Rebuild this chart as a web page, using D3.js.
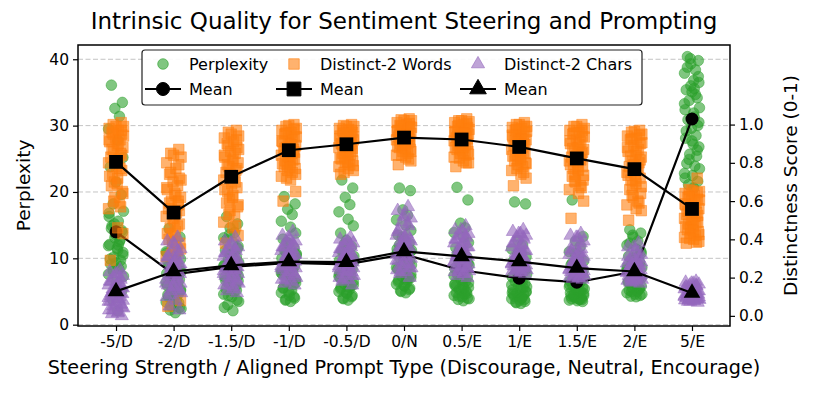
<!DOCTYPE html>
<html>
<head>
<meta charset="utf-8">
<script src="https://cdn.jsdelivr.net/npm/d3@7"></script>
<style>
  body { margin: 0; background: #fff; }
  text { font-family: "DejaVu Sans", sans-serif; fill: #000; }
</style>
</head>
<body>
<script>
// categories on the x axis
const categories = ["-5/D", "-2/D", "-1.5/D", "-1/D", "-0.5/D", "0/N", "0.5/E", "1/E", "1.5/E", "2/E", "5/E"];

// perplexity samples per category (left axis)
const perplexity = [
  [36.1, 33.5, 32.6, 31.4, 29.5, 27.8, 25.2, 23.8, 21.5, 19.6, 18.2, 17.1, 16.3, 15.6, 14.9, 14.2, 13.6, 12.8, 12.1, 11.5, 10.9, 10.2, 9.7, 9.1, 8.4, 7.6, 6.5, 5.1, 3.8, 2.1,
   15.2, 14.5, 13.9, 13.1, 12.5, 11.9, 11.2, 10.5, 9.9, 9.3, 8.8, 8.1, 7.3, 16.8, 12.0],
  [14.5, 13.2, 12.4, 11.6, 11.0, 10.4, 9.9, 9.5, 9.1, 8.7, 8.3, 8.0, 7.7, 7.4, 7.1, 6.8, 6.5, 6.2, 5.9, 5.6, 5.3, 5.0, 4.6, 4.2, 3.8, 3.4, 3.0, 2.6, 2.2, 1.8,
   9.6, 8.9, 8.1, 7.5, 6.9, 6.3, 5.7, 5.1, 4.5, 3.9, 3.3, 2.8, 2.4, 10.8, 7.9],
  [16.3, 15.2, 14.6, 13.9, 13.1, 12.4, 11.8, 11.2, 10.7, 10.2, 9.8, 9.4, 9.0, 8.7, 8.4, 8.1, 7.8, 7.5, 7.2, 6.9, 6.6, 6.2, 5.8, 5.4, 5.0, 4.6, 4.2, 3.7, 3.0, 2.1,
   13.6, 12.8, 11.5, 10.5, 9.6, 8.8, 8.2, 7.4, 6.7, 6.0, 5.2, 4.4, 3.5, 2.6, 9.9],
  [19.3, 18.2, 17.4, 16.6, 15.6, 14.7, 13.8, 12.9, 12.2, 11.6, 11.0, 10.5, 10.0, 9.6, 9.2, 8.8, 8.4, 8.0, 7.6, 7.2, 6.8, 6.4, 6.0, 5.6, 5.2, 4.8, 4.4, 4.0, 3.7, 3.5,
   12.4, 11.3, 10.2, 9.4, 8.6, 7.8, 7.0, 6.3, 5.5, 4.9, 4.2, 3.8, 10.7, 8.2, 6.6],
  [21.8, 20.6, 19.2, 18.1, 17.0, 15.9, 14.9, 13.8, 12.7, 11.8, 11.0, 10.3, 9.7, 9.2, 8.7, 8.3, 7.9, 7.5, 7.1, 6.8, 6.5, 6.2, 5.9, 5.6, 5.3, 5.0, 4.7, 4.4, 4.0, 3.7,
   12.2, 11.1, 10.0, 9.0, 8.1, 7.3, 6.6, 6.0, 5.4, 4.8, 4.2, 3.9, 9.5, 7.7, 5.7],
  [20.6, 20.2, 17.3, 16.5, 15.8, 15.0, 14.2, 13.5, 12.9, 12.3, 11.7, 11.2, 10.8, 10.4, 10.0, 9.6, 9.2, 8.8, 8.4, 8.0, 7.6, 7.3, 7.0, 6.7, 6.4, 6.1, 5.8, 5.5, 5.1, 4.8,
   13.2, 12.0, 11.0, 10.2, 9.4, 8.6, 7.8, 7.1, 6.5, 5.9, 5.3, 5.0, 9.0, 11.4, 6.8],
  [20.7, 18.8, 15.3, 14.6, 13.9, 13.2, 12.4, 11.6, 10.9, 10.2, 9.6, 9.0, 8.5, 8.0, 7.6, 7.2, 6.8, 6.5, 6.2, 5.9, 5.6, 5.3, 5.0, 4.8, 4.6, 4.4, 4.2, 4.0, 3.8, 3.6,
   11.3, 10.5, 9.3, 8.7, 7.9, 7.4, 6.9, 6.3, 5.8, 5.2, 4.7, 4.3, 3.9, 6.0, 5.5],
  [18.5, 18.2, 12.7, 12.0, 11.4, 10.8, 10.2, 9.6, 9.0, 8.5, 8.0, 7.6, 7.2, 6.8, 6.5, 6.2, 5.9, 5.6, 5.3, 5.1, 4.9, 4.7, 4.5, 4.3, 4.1, 3.9, 3.7, 3.5, 3.4, 3.2,
   10.5, 9.3, 8.3, 7.4, 6.6, 6.0, 5.5, 5.0, 4.6, 4.2, 3.8, 3.3, 5.7, 4.8, 4.0],
  [18.8, 13.3, 12.6, 11.8, 11.0, 10.3, 9.6, 9.0, 8.4, 7.9, 7.4, 7.0, 6.6, 6.2, 5.9, 5.6, 5.3, 5.0, 4.8, 4.6, 4.4, 4.2, 4.0, 3.9, 3.8, 3.7, 3.6, 3.5, 4.3, 5.1,
   10.8, 9.3, 8.1, 7.2, 6.4, 5.7, 5.1, 4.7, 4.3, 4.0, 3.8, 4.5, 5.4, 6.0, 3.9],
  [14.3, 13.8, 13.2, 12.6, 12.0, 11.4, 10.8, 10.3, 9.8, 9.4, 9.0, 8.6, 8.2, 7.9, 7.6, 7.3, 7.0, 6.7, 6.4, 6.1, 5.8, 5.6, 5.4, 5.2, 5.0, 4.8, 4.6, 4.4, 4.3, 4.2,
   13.5, 12.3, 11.1, 10.0, 9.1, 8.4, 7.7, 7.1, 6.5, 5.9, 5.4, 5.0, 4.6, 8.8, 6.2],
  [40.4, 39.8, 39.3, 38.4, 37.9, 36.8, 36.5, 35.4, 35.1, 34.2, 33.8, 32.7, 32.4, 31.3, 30.9, 30.0, 29.6, 28.5, 28.1, 27.2, 26.8, 25.7, 25.4, 24.3, 23.9, 22.8, 22.5, 21.6, 21.1, 20.6,
   40.1, 38.8, 37.4, 36.0, 34.7, 33.3, 31.9, 30.5, 29.2, 27.7, 26.3, 24.9, 23.5, 22.1, 35.6]
];

// distinct-2 words samples (right axis)
const distinctWords = [
  [1.01, 1.0, 0.99, 0.98, 0.97, 0.96, 0.95, 0.93, 0.92, 0.91, 0.89, 0.88, 0.86, 0.85, 0.83, 0.82, 0.8, 0.78, 0.76, 0.74, 0.72, 0.7, 0.68, 0.65, 0.62, 0.59, 0.56, 0.46, 0.43, 0.29,
   0.99, 0.97, 0.95, 0.94, 0.92, 0.9, 0.87, 0.84, 0.81, 0.77, 0.73, 0.69, 0.64, 0.6, 0.57],
  [0.87, 0.85, 0.83, 0.8, 0.77, 0.74, 0.72, 0.7, 0.68, 0.66, 0.64, 0.62, 0.6, 0.58, 0.56, 0.54, 0.52, 0.5, 0.48, 0.46, 0.44, 0.42, 0.4, 0.38, 0.36, 0.34, 0.31, 0.28, 0.08, 0.05,
   0.84, 0.79, 0.75, 0.71, 0.67, 0.63, 0.59, 0.55, 0.51, 0.47, 0.43, 0.39, 0.35, 0.32, 0.6],
  [0.97, 0.96, 0.94, 0.93, 0.91, 0.9, 0.88, 0.86, 0.85, 0.83, 0.81, 0.8, 0.78, 0.76, 0.75, 0.73, 0.71, 0.69, 0.67, 0.65, 0.63, 0.61, 0.59, 0.57, 0.55, 0.52, 0.49, 0.46, 0.42, 0.38,
   0.95, 0.92, 0.89, 0.87, 0.84, 0.82, 0.79, 0.77, 0.74, 0.7, 0.66, 0.62, 0.58, 0.53, 0.47],
  [1.0, 0.99, 0.98, 0.97, 0.96, 0.95, 0.94, 0.93, 0.92, 0.91, 0.9, 0.89, 0.88, 0.87, 0.86, 0.85, 0.84, 0.83, 0.82, 0.81, 0.8, 0.79, 0.78, 0.77, 0.76, 0.75, 0.73, 0.71, 0.65, 0.6,
   0.995, 0.975, 0.955, 0.935, 0.915, 0.895, 0.875, 0.855, 0.835, 0.815, 0.795, 0.775, 0.74, 0.72, 0.86],
  [1.0, 0.995, 0.99, 0.98, 0.975, 0.97, 0.96, 0.95, 0.945, 0.94, 0.93, 0.92, 0.915, 0.91, 0.9, 0.89, 0.88, 0.87, 0.86, 0.85, 0.84, 0.83, 0.82, 0.81, 0.8, 0.79, 0.78, 0.77, 0.76, 0.74,
   0.99, 0.97, 0.955, 0.935, 0.925, 0.905, 0.895, 0.875, 0.865, 0.845, 0.825, 0.805, 0.785, 0.75, 0.9],
  [1.03, 1.025, 1.02, 1.01, 1.0, 0.995, 0.99, 0.98, 0.975, 0.97, 0.96, 0.955, 0.95, 0.94, 0.935, 0.93, 0.92, 0.915, 0.91, 0.9, 0.895, 0.89, 0.88, 0.87, 0.86, 0.85, 0.84, 0.83, 0.81, 0.79,
   1.02, 1.005, 0.99, 0.985, 0.965, 0.95, 0.945, 0.925, 0.91, 0.905, 0.885, 0.875, 0.86, 0.84, 0.82],
  [1.03, 1.02, 1.015, 1.01, 1.0, 0.99, 0.985, 0.98, 0.97, 0.965, 0.96, 0.95, 0.945, 0.94, 0.93, 0.92, 0.915, 0.91, 0.9, 0.89, 0.88, 0.875, 0.87, 0.86, 0.85, 0.84, 0.83, 0.81, 0.8, 0.78,
   1.02, 1.005, 0.995, 0.975, 0.96, 0.955, 0.935, 0.925, 0.905, 0.895, 0.88, 0.865, 0.845, 0.825, 0.8],
  [1.01, 1.0, 0.99, 0.985, 0.98, 0.97, 0.96, 0.95, 0.94, 0.935, 0.93, 0.92, 0.91, 0.9, 0.89, 0.88, 0.87, 0.86, 0.85, 0.84, 0.83, 0.82, 0.81, 0.8, 0.79, 0.78, 0.76, 0.74, 0.72, 0.68,
   1.0, 0.99, 0.975, 0.965, 0.945, 0.925, 0.915, 0.895, 0.875, 0.855, 0.835, 0.815, 0.795, 0.77, 0.75],
  [1.0, 0.99, 0.98, 0.97, 0.96, 0.95, 0.94, 0.92, 0.91, 0.9, 0.88, 0.87, 0.86, 0.85, 0.83, 0.82, 0.81, 0.8, 0.78, 0.77, 0.76, 0.74, 0.73, 0.71, 0.7, 0.68, 0.66, 0.64, 0.6, 0.51,
   0.99, 0.97, 0.955, 0.935, 0.915, 0.895, 0.875, 0.855, 0.835, 0.815, 0.79, 0.765, 0.735, 0.705, 0.67],
  [0.97, 0.96, 0.95, 0.94, 0.93, 0.92, 0.9, 0.89, 0.87, 0.86, 0.84, 0.83, 0.81, 0.8, 0.78, 0.77, 0.75, 0.74, 0.72, 0.71, 0.69, 0.68, 0.66, 0.64, 0.62, 0.6, 0.58, 0.56, 0.55, 0.5,
   0.965, 0.945, 0.925, 0.905, 0.88, 0.86, 0.835, 0.815, 0.79, 0.765, 0.735, 0.705, 0.675, 0.63, 0.59],
  [0.72, 0.66, 0.65, 0.64, 0.63, 0.62, 0.61, 0.6, 0.59, 0.58, 0.57, 0.56, 0.55, 0.54, 0.53, 0.52, 0.51, 0.5, 0.49, 0.48, 0.47, 0.46, 0.45, 0.44, 0.43, 0.42, 0.41, 0.4, 0.39, 0.38,
   0.655, 0.645, 0.625, 0.605, 0.585, 0.565, 0.545, 0.525, 0.505, 0.485, 0.465, 0.445, 0.425, 0.405, 0.385]
];

// distinct-2 chars samples (right axis)
const distinctChars = [
  [0.24, 0.23, 0.22, 0.21, 0.2, 0.19, 0.18, 0.17, 0.16, 0.155, 0.15, 0.14, 0.135, 0.13, 0.12, 0.115, 0.11, 0.1, 0.095, 0.09, 0.08, 0.075, 0.07, 0.06, 0.05, 0.04, 0.03, 0.02, 0.01, 0.0,
   0.22, 0.2, 0.18, 0.16, 0.145, 0.13, 0.12, 0.105, 0.09, 0.075, 0.06, 0.045, 0.03, 0.015, 0.14],
  [0.41, 0.39, 0.37, 0.35, 0.33, 0.32, 0.31, 0.3, 0.29, 0.28, 0.27, 0.26, 0.25, 0.24, 0.23, 0.22, 0.21, 0.2, 0.19, 0.18, 0.17, 0.16, 0.15, 0.14, 0.13, 0.12, 0.1, 0.08, 0.05, 0.03,
   0.38, 0.34, 0.31, 0.29, 0.27, 0.25, 0.23, 0.21, 0.19, 0.17, 0.15, 0.13, 0.11, 0.22, 0.26],
  [0.41, 0.39, 0.37, 0.36, 0.35, 0.34, 0.33, 0.32, 0.31, 0.3, 0.29, 0.28, 0.275, 0.27, 0.26, 0.255, 0.25, 0.24, 0.235, 0.23, 0.22, 0.21, 0.2, 0.19, 0.18, 0.17, 0.16, 0.15, 0.13, 0.12,
   0.38, 0.35, 0.33, 0.31, 0.29, 0.27, 0.26, 0.25, 0.24, 0.22, 0.2, 0.18, 0.16, 0.14, 0.28],
  [0.44, 0.42, 0.4, 0.39, 0.38, 0.37, 0.36, 0.35, 0.34, 0.33, 0.32, 0.31, 0.3, 0.295, 0.29, 0.285, 0.28, 0.27, 0.26, 0.255, 0.25, 0.24, 0.23, 0.22, 0.21, 0.2, 0.19, 0.18, 0.17, 0.16,
   0.41, 0.38, 0.36, 0.34, 0.32, 0.3, 0.29, 0.28, 0.27, 0.25, 0.23, 0.21, 0.19, 0.31, 0.26],
  [0.41, 0.4, 0.39, 0.38, 0.37, 0.36, 0.35, 0.34, 0.33, 0.32, 0.31, 0.305, 0.3, 0.295, 0.29, 0.28, 0.275, 0.27, 0.26, 0.255, 0.25, 0.24, 0.235, 0.23, 0.22, 0.21, 0.2, 0.19, 0.18, 0.16,
   0.39, 0.37, 0.35, 0.33, 0.31, 0.3, 0.29, 0.28, 0.27, 0.25, 0.23, 0.21, 0.19, 0.26, 0.32],
  [0.57, 0.55, 0.53, 0.51, 0.49, 0.47, 0.45, 0.43, 0.42, 0.41, 0.4, 0.39, 0.38, 0.37, 0.36, 0.35, 0.34, 0.33, 0.32, 0.31, 0.3, 0.29, 0.28, 0.27, 0.26, 0.25, 0.24, 0.23, 0.22, 0.2,
   0.52, 0.48, 0.44, 0.41, 0.39, 0.37, 0.35, 0.33, 0.31, 0.29, 0.27, 0.25, 0.23, 0.34, 0.36],
  [0.47, 0.45, 0.44, 0.43, 0.42, 0.41, 0.4, 0.39, 0.38, 0.37, 0.36, 0.35, 0.34, 0.33, 0.32, 0.31, 0.3, 0.29, 0.285, 0.28, 0.27, 0.26, 0.255, 0.25, 0.24, 0.235, 0.23, 0.22, 0.21, 0.2,
   0.45, 0.42, 0.4, 0.38, 0.36, 0.34, 0.32, 0.31, 0.3, 0.28, 0.26, 0.25, 0.23, 0.22, 0.33],
  [0.45, 0.44, 0.43, 0.42, 0.41, 0.4, 0.38, 0.37, 0.36, 0.35, 0.34, 0.33, 0.32, 0.31, 0.3, 0.29, 0.285, 0.28, 0.275, 0.27, 0.265, 0.26, 0.255, 0.25, 0.245, 0.24, 0.235, 0.23, 0.225, 0.22,
   0.43, 0.41, 0.38, 0.36, 0.34, 0.32, 0.3, 0.29, 0.28, 0.27, 0.26, 0.25, 0.24, 0.23, 0.31],
  [0.43, 0.42, 0.41, 0.39, 0.37, 0.35, 0.34, 0.33, 0.32, 0.31, 0.3, 0.29, 0.28, 0.27, 0.265, 0.26, 0.255, 0.25, 0.245, 0.24, 0.235, 0.23, 0.225, 0.22, 0.215, 0.21, 0.205, 0.2, 0.195, 0.19,
   0.41, 0.38, 0.35, 0.33, 0.31, 0.29, 0.27, 0.26, 0.25, 0.24, 0.23, 0.22, 0.21, 0.2, 0.28],
  [0.38, 0.36, 0.34, 0.32, 0.31, 0.3, 0.29, 0.28, 0.275, 0.27, 0.265, 0.26, 0.255, 0.25, 0.245, 0.24, 0.235, 0.23, 0.225, 0.22, 0.215, 0.21, 0.205, 0.2, 0.195, 0.19, 0.185, 0.18, 0.175, 0.17,
   0.36, 0.33, 0.31, 0.29, 0.28, 0.27, 0.26, 0.25, 0.24, 0.23, 0.22, 0.21, 0.2, 0.19, 0.18],
  [0.18, 0.175, 0.17, 0.165, 0.16, 0.155, 0.15, 0.145, 0.14, 0.135, 0.13, 0.125, 0.12, 0.118, 0.115, 0.112, 0.11, 0.108, 0.105, 0.1, 0.098, 0.095, 0.092, 0.09, 0.088, 0.085, 0.082, 0.08, 0.075, 0.07,
   0.17, 0.16, 0.15, 0.14, 0.13, 0.125, 0.12, 0.115, 0.11, 0.1, 0.095, 0.09, 0.085, 0.08, 0.075]
];

// means per category
const perplexityMean = [14.0, 7.6, 8.7, 9.3, 9.1, 10.6, 8.2, 7.0, 6.4, 8.0, 31.0];
const wordsMean = [0.805, 0.54, 0.727, 0.866, 0.897, 0.932, 0.922, 0.883, 0.823, 0.767, 0.559];
const charsMean = [0.128, 0.232, 0.264, 0.284, 0.281, 0.337, 0.311, 0.284, 0.25, 0.232, 0.12];

// horizontal jitter offsets (in category units)
const jitter = [-0.08, 0.11, -0.02, 0.06, -0.13, 0.03, 0.12, -0.1, 0.0, 0.09, -0.05, 0.13, -0.12, 0.04, -0.07, 0.1, -0.01, 0.07, -0.11, 0.02, 0.12, -0.04, 0.08, -0.09, 0.05, -0.13, 0.01, 0.1, -0.06, 0.03, -0.03];

const leftTicks = [0, 10, 20, 30, 40];
const rightTicks = [0.0, 0.2, 0.4, 0.6, 0.8, 1.0];

const width = 814, height = 397;
const plot = { left: 78, right: 730, top: 45, bottom: 326 };

const svg = d3.select("body").append("svg")
    .attr("width", width)
    .attr("height", height);

let x = d3.scaleLinear().domain([-0.66, 10.66]).range([plot.left, plot.right]);
let yL = d3.scaleLinear().domain([-0.2, 42.15]).range([plot.bottom, plot.top]);
let yR = d3.scaleLinear().domain([-0.053, 1.416]).range([plot.bottom, plot.top]);

const green = "#2ca02c", orange = "#ff7f0e", purple = "#9467bd";

// grid (left axis ticks)
svg.append("g").selectAll("line").data(leftTicks).enter().append("line")
    .attr("x1", plot.left).attr("x2", plot.right)
    .attr("y1", d => yL(d)).attr("y2", d => yL(d))
    .attr("stroke", "#c4c4c4").attr("stroke-width", 1)
    .attr("stroke-dasharray", "5,2.5");

svg.append("clipPath").attr("id", "clip").append("rect")
    .attr("x", plot.left).attr("y", plot.top)
    .attr("width", plot.right - plot.left).attr("height", plot.bottom - plot.top);

const layer = svg.append("g").attr("clip-path", "url(#clip)");

function flatten(series, shift) {
    let pts = [];
    series.forEach((vals, ci) => vals.forEach((v, i) => {
        pts.push({ c: ci + jitter[(i + shift) % jitter.length], v: v });
    }));
    return pts;
}

const sqSym = d3.symbol().type(d3.symbolSquare);
const triSym = d3.symbol().type(d3.symbolTriangle);
const alpha = 0.6;

// perplexity points
layer.append("g").selectAll("circle").data(flatten(perplexity, 0)).enter().append("circle")
    .attr("cx", d => x(d.c)).attr("cy", d => yL(d.v)).attr("r", 5.3)
    .attr("fill", green).attr("fill-opacity", alpha)
    .attr("stroke", green).attr("stroke-opacity", alpha).attr("stroke-width", 0.8);

const meanLine = (scale) => d3.line().x((d, i) => x(i)).y(d => scale(d));

layer.append("path").datum(perplexityMean)
    .attr("d", meanLine(yL)).attr("fill", "none").attr("stroke", "#000").attr("stroke-width", 2.2);
layer.append("g").selectAll("circle").data(perplexityMean).enter().append("circle")
    .attr("cx", (d, i) => x(i)).attr("cy", d => yL(d)).attr("r", 6.5).attr("fill", "#000");

// distinct-2 words
layer.append("g").selectAll("path").data(flatten(distinctWords, 9)).enter().append("path")
    .attr("transform", d => `translate(${x(d.c)},${yR(d.v)})`)
    .attr("d", sqSym.size(110)())
    .attr("fill", orange).attr("fill-opacity", alpha)
    .attr("stroke", orange).attr("stroke-opacity", alpha).attr("stroke-width", 0.8);

layer.append("path").datum(wordsMean)
    .attr("d", meanLine(yR)).attr("fill", "none").attr("stroke", "#000").attr("stroke-width", 2.2);
layer.append("g").selectAll("path").data(wordsMean).enter().append("path")
    .attr("transform", (d, i) => `translate(${x(i)},${yR(d)})`)
    .attr("d", sqSym.size(190)()).attr("fill", "#000");

// distinct-2 chars
layer.append("g").selectAll("path").data(flatten(distinctChars, 17)).enter().append("path")
    .attr("transform", d => `translate(${x(d.c)},${yR(d.v)})`)
    .attr("d", triSym.size(75)())
    .attr("fill", purple).attr("fill-opacity", alpha)
    .attr("stroke", purple).attr("stroke-opacity", alpha).attr("stroke-width", 0.8);

layer.append("path").datum(charsMean)
    .attr("d", meanLine(yR)).attr("fill", "none").attr("stroke", "#000").attr("stroke-width", 2.2);
layer.append("g").selectAll("path").data(charsMean).enter().append("path")
    .attr("transform", (d, i) => `translate(${x(i)},${yR(d)})`)
    .attr("d", triSym.size(120)()).attr("fill", "#000");

// axes
const axL = svg.append("g").attr("transform", `translate(${plot.left},0)`)
    .call(d3.axisLeft(yL).tickValues(leftTicks).tickSize(5).tickPadding(4));
const axR = svg.append("g").attr("transform", `translate(${plot.right},0)`)
    .call(d3.axisRight(yR).tickValues(rightTicks).tickFormat(d3.format(".1f")).tickSize(5).tickPadding(4));
const axB = svg.append("g").attr("transform", `translate(0,${plot.bottom})`)
    .call(d3.axisBottom(x).tickValues(d3.range(categories.length)).tickFormat(i => categories[i]).tickSize(5).tickPadding(5));

[axL, axR, axB].forEach(a => {
    a.select(".domain").remove();
    a.selectAll("line").attr("stroke", "#000").attr("stroke-width", 1.2);
    a.selectAll("text").style("font-size", "15.5px").attr("fill", "#000");
});

// frame
svg.append("rect")
    .attr("x", plot.left).attr("y", plot.top)
    .attr("width", plot.right - plot.left).attr("height", plot.bottom - plot.top)
    .attr("fill", "none").attr("stroke", "#000").attr("stroke-width", 1.5);

// title and axis labels
svg.append("text")
    .attr("x", (plot.left + plot.right) / 2).attr("y", 29)
    .style("text-anchor", "middle").style("font-size", "23px")
    .text("Intrinsic Quality for Sentiment Steering and Prompting");

svg.append("text")
    .attr("x", (plot.left + plot.right) / 2).attr("y", 374)
    .style("text-anchor", "middle").style("font-size", "19.2px")
    .text("Steering Strength / Aligned Prompt Type (Discourage, Neutral, Encourage)");

svg.append("text")
    .attr("transform", `translate(30, ${(plot.top + plot.bottom) / 2}) rotate(-90)`)
    .style("text-anchor", "middle").style("font-size", "18.5px")
    .text("Perplexity");

svg.append("text")
    .attr("transform", `translate(797, ${(plot.top + plot.bottom) / 2}) rotate(-90)`)
    .style("text-anchor", "middle").style("font-size", "18.5px")
    .text("Distinctness Score (0-1)");

// legend
const legend = svg.append("g");
legend.append("rect")
    .attr("x", 142).attr("y", 50).attr("width", 500).attr("height", 55)
    .attr("rx", 3).attr("fill", "#fff").attr("fill-opacity", 0.9)
    .attr("stroke", "#222").attr("stroke-width", 1.2);

const legendItems = [
    { label: "Perplexity", mx: 163, row: 0, kind: "circle", color: green },
    { label: "Distinct-2 Words", mx: 294, row: 0, kind: "square", color: orange },
    { label: "Distinct-2 Chars", mx: 478, row: 0, kind: "triangle", color: purple },
    { label: "Mean", mx: 163, row: 1, kind: "circle", color: "#000" },
    { label: "Mean", mx: 294, row: 1, kind: "square", color: "#000" },
    { label: "Mean", mx: 478, row: 1, kind: "triangle", color: "#000" }
];

legendItems.forEach(it => {
    const cy = it.row === 0 ? 64 : 89;
    const isMean = it.row === 1;
    const g = legend.append("g").attr("transform", `translate(${it.mx},${cy})`);
    if (isMean) {
        g.append("line").attr("x1", -18).attr("x2", 18)
            .attr("stroke", "#000").attr("stroke-width", 2.2);
    }
    const op = isMean ? 1 : alpha;
    if (it.kind === "circle") {
        g.append("circle").attr("r", isMean ? 6.5 : 5.3)
            .attr("fill", it.color).attr("fill-opacity", op)
            .attr("stroke", it.color).attr("stroke-opacity", op);
    } else if (it.kind === "square") {
        g.append("path").attr("d", sqSym.size(isMean ? 190 : 110)())
            .attr("fill", it.color).attr("fill-opacity", op)
            .attr("stroke", it.color).attr("stroke-opacity", op);
    } else {
        g.append("path").attr("d", triSym.size(isMean ? 120 : 75)())
            .attr("fill", it.color).attr("fill-opacity", op)
            .attr("stroke", it.color).attr("stroke-opacity", op);
    }
    legend.append("text")
        .attr("x", it.mx + 26).attr("y", cy)
        .attr("dy", "0.35em")
        .style("font-size", "16px")
        .text(it.label);
});
</script>
</body>
</html>
